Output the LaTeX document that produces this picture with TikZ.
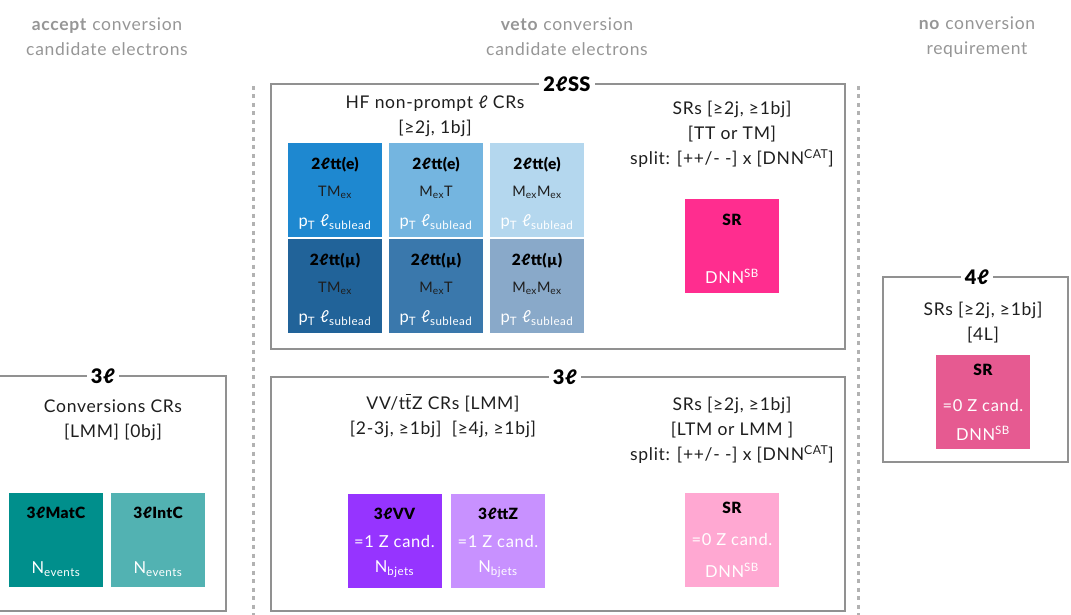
\documentclass[tikz,border=0pt]{standalone}
\usepackage{fontspec}
\setmainfont{Lato}[LetterSpace=4]
\newfontfamily\heavy{Lato Black}[LetterSpace=2]
\usetikzlibrary{calc}
\definecolor{framegray}{RGB}{145,145,145}
\definecolor{hdrgray}{RGB}{150,150,150}
\definecolor{txt}{RGB}{30,30,30}
\definecolor{ea}{RGB}{30,136,208}
\definecolor{eb}{RGB}{116,181,224}
\definecolor{ec}{RGB}{180,215,238}
\definecolor{ma}{RGB}{33,99,153}
\definecolor{mb}{RGB}{58,120,172}
\definecolor{mc}{RGB}{137,169,201}
\definecolor{srpink}{RGB}{255,45,143}
\definecolor{srlight}{RGB}{255,168,210}
\definecolor{srfour}{RGB}{230,90,145}
\definecolor{vva}{RGB}{150,52,255}
\definecolor{vvb}{RGB}{200,145,255}
\definecolor{cva}{RGB}{0,143,140}
\definecolor{cvb}{RGB}{82,178,178}
\newcommand{\tbar}{\rlap{\hspace{0.03em}\raisebox{0.8em}{\rule{0.32em}{0.06em}}}t}
\tikzset{
  frame/.style={draw=framegray, line width=2.6pt, inner sep=0pt},
  flabel/.style={fill=white, inner xsep=4pt, inner ysep=1pt, font=\fontsize{20}{21}\selectfont\heavy},
  cbox/.style={minimum width=95pt, minimum height=95pt, inner sep=0pt, draw=white, line width=0.6pt},
  ttl/.style={font=\fontsize{15.5}{17}\selectfont\heavy, text=black, inner sep=0pt},
  mid/.style={font=\fontsize{14.5}{16}\selectfont, text=txt, inner sep=0pt},
  big/.style={font=\fontsize{16.5}{18}\selectfont, text=white, inner sep=0pt},
  body/.style={font=\fontsize{17.5}{25}\selectfont, text=txt, align=center, inner sep=0pt},
  hdr/.style={font=\fontsize{17.5}{25}\selectfont, text=hdrgray, align=center, inner sep=0pt},
  vsep/.style={draw=framegray!70, line width=3pt, dash pattern=on 4pt off 4.5pt}
}
\begin{document}
\begin{tikzpicture}[x=1pt,y=-1pt]
\useasboundingbox (0,0) rectangle (1071,615);
% headers
\node[hdr] (h1) at (107,37) {\textbf{accept} conversion\\candidate electrons};
\node[hdr] (h2) at (567,37) {\textbf{veto} conversion\\candidate electrons};
\node[hdr] (h3) at (977,37) {\textbf{no} conversion\\requirement};
% separators
\coordinate (s1a) at (253,86); \coordinate (s1b) at (253,615);
\coordinate (s2a) at (858,86); \coordinate (s2b) at (858,615);
\draw[vsep] (s1a) -- (s1b);
\draw[vsep] (s2a) -- (s2b);
% frames
\node[frame, minimum width=574pt, minimum height=265pt] (ss) at (558,216.5) {};
\node[frame, minimum width=574pt, minimum height=234pt] (tl) at (558,494) {};
\node[frame, minimum width=246pt, minimum height=235pt] (cl) at (103,493.5) {};
\node[frame, minimum width=185pt, minimum height=185pt] (fl) at (975.5,369.5) {};
\node[flabel] (ssl) at (567,84) {2ℓSS};
\node[flabel] (tll) at (565,377) {3ℓ};
\node[flabel] (cll) at (103,376) {3ℓ};
\node[flabel] (fll) at (977,277) {4ℓ};
% 2lSS contents
\node[body] (hf) at (435,116.5) {HF non-prompt ℓ CRs\\{}[≥2j, 1bj]};
\node[body] (srt) at (732,134.5) {SRs [≥2j, ≥1bj]\\{}[TT or TM]\\split: [++/- -] x [DNN\textsuperscript{CAT}]};
\foreach \n/\c/\x/\y/\f/\m in {e1/ea/335/190/e/TM\textsubscript{ex}, e2/eb/436/190/e/M\textsubscript{ex}T, e3/ec/537/190/e/M\textsubscript{ex}M\textsubscript{ex},
  m1/ma/335/286/µ/TM\textsubscript{ex}, m2/mb/436/286/µ/M\textsubscript{ex}T, m3/mc/537/286/µ/M\textsubscript{ex}M\textsubscript{ex}}{
  \node[cbox, fill=\c] (\n) at (\x,\y) {};
  \node[ttl] (\n t) at ($(\n.center)+(0,-25)$) {2ℓtt(\f)};
  \node[mid] (\n m) at ($(\n.center)+(0,2)$) {\m};
  \node[big] (\n b) at ($(\n.center)+(0,32)$) {p\textsubscript{T} ℓ\textsubscript{sublead}};
}
\node[cbox, fill=srpink] (sr1) at (732,246) {};
\node[ttl] (sr1t) at ($(sr1.center)+(0,-26)$) {SR};
\node[big] (sr1b) at ($(sr1.center)+(0,30)$) {DNN\textsuperscript{SB}};
% 3l middle contents
\node[body] (vvt) at (443,416) {VV/t\tbar Z CRs [LMM]\\{}[2-3j, ≥1bj]\ \ [≥4j, ≥1bj]};
\node[body] (sr3t) at (732,430.5) {SRs [≥2j, ≥1bj]\\{}[LTM or LMM ]\\split: [++/- -] x [DNN\textsuperscript{CAT}]};
\node[cbox, fill=vva] (vv) at (394.5,541) {};
\node[ttl] (vvtt) at ($(vv.center)+(0,-27)$) {3ℓVV};
\node[big] (vvm) at ($(vv.center)+(0,0)$) {=1 Z cand.};
\node[big] (vvb) at ($(vv.center)+(0,28)$) {N\textsubscript{bjets}};
\node[cbox, fill=vvb] (tz) at (498,541) {};
\node[ttl] (tztt) at ($(tz.center)+(0,-27)$) {3ℓttZ};
\node[big] (tzm) at ($(tz.center)+(0,0)$) {=1 Z cand.};
\node[big] (tzb) at ($(tz.center)+(0,28)$) {N\textsubscript{bjets}};
\node[cbox, fill=srlight] (sr3) at (732,540) {};
\node[ttl] (sr3tt) at ($(sr3.center)+(0,-32)$) {SR};
\node[big] (sr3m) at ($(sr3.center)+(0,-1)$) {=0 Z cand.};
\node[big] (sr3b) at ($(sr3.center)+(0,30)$) {DNN\textsuperscript{SB}};
% 4l contents
\node[body] (fourt) at (983,323) {SRs [≥2j, ≥1bj]\\{}[4L]};
\node[cbox, fill=srfour] (sr4) at (983,402) {};
\node[ttl] (sr4tt) at ($(sr4.center)+(0,-32)$) {SR};
\node[big] (sr4m) at ($(sr4.center)+(0,3)$) {=0 Z cand.};
\node[big] (sr4b) at ($(sr4.center)+(0,31)$) {DNN\textsuperscript{SB}};
% conversion contents
\node[body] (convt) at (113,420) {Conversions CRs\\{}[LMM] [0bj]};
\node[cbox, fill=cva] (mat) at (56,540) {};
\node[ttl] (matt) at ($(mat.center)+(0,-27)$) {3ℓMatC};
\node[big] (matb) at ($(mat.center)+(0,29)$) {N\textsubscript{events}};
\node[cbox, fill=cvb] (int) at (158,540) {};
\node[ttl] (intt) at ($(int.center)+(0,-27)$) {3ℓIntC};
\node[big] (intb) at ($(int.center)+(0,29)$) {N\textsubscript{events}};
\end{tikzpicture}
\end{document}
